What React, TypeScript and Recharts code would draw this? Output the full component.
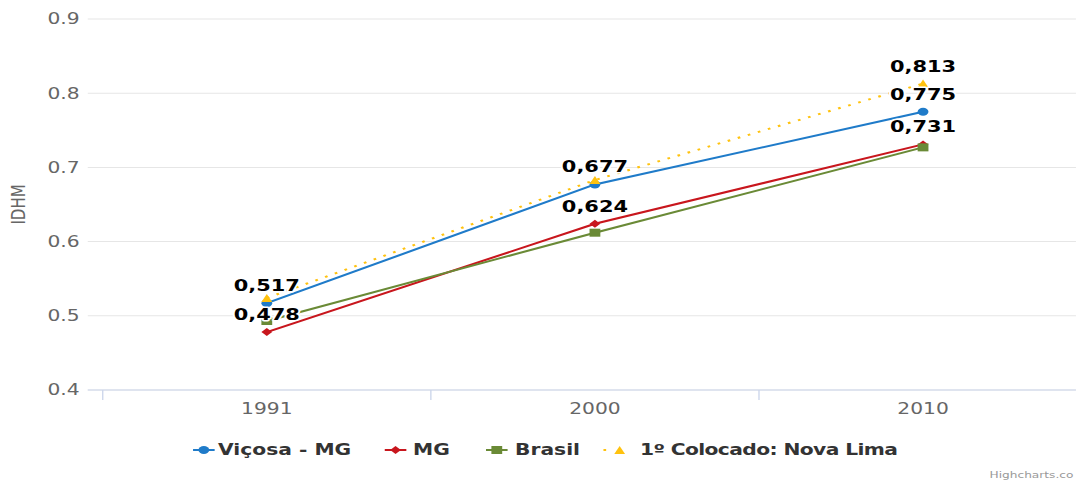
import React from 'react';
import { LineChart, Line, XAxis, YAxis, CartesianGrid, Legend, LabelList } from 'recharts';

// ---- data ----
const years = ['1991', '2000', '2010'];
const vicosa = [0.517, 0.677, 0.775];
const mg = [0.478, 0.624, 0.731];
const brasil = [0.493, 0.612, 0.727];
const novaLima = [0.524, 0.683, 0.813];
const yTicks = [0.4, 0.5, 0.6, 0.7, 0.8, 0.9];
const vicosaLabels = [true, true, true];
const mgLabels = [true, true, true];
const brasilLabels = [false, false, false];
const novaLimaLabels = [false, false, true];

const data = years.map((y, i) => ({
  idx: i,
  year: y,
  vicosa: vicosa[i],
  mg: mg[i],
  brasil: brasil[i],
  novaLima: novaLima[i],
}));

type Shape = 'circle' | 'diamond' | 'square' | 'triangle';
const series: { key: string; name: string; color: string; shape: Shape; dash?: string; labels: boolean[] }[] = [
  { key: 'vicosa', name: 'Viçosa - MG', color: '#1f7bc9', shape: 'circle', labels: vicosaLabels },
  { key: 'mg', name: 'MG', color: '#c8161d', shape: 'diamond', labels: mgLabels },
  { key: 'brasil', name: 'Brasil', color: '#6a8a36', shape: 'square', labels: brasilLabels },
  { key: 'novaLima', name: '1º Colocado: Nova Lima', color: '#ffc20e', shape: 'triangle', dash: '2 6', labels: novaLimaLabels },
];

// legend layout (chart units, before horizontal stretch)
const legendSymbolLeft = [143, 285, 360, 447];
const legendTextLeft = [161.5, 306, 381.5, 474];

const SCALE_X = 1.35;
const W = 797;
const H = 480;
const FONT = "'DejaVu Sans', sans-serif";
const X_DOMAIN: [number, number] = [-0.5457, 2.466];

function markerEl(shape: Shape, cx: number, cy: number, color: string, key?: string | number) {
  const s = 4;
  if (shape === 'circle') return <circle key={key} cx={cx} cy={cy} r={4} fill={color} />;
  if (shape === 'diamond')
    return <path key={key} d={`M${cx},${cy - s} L${cx + s},${cy} L${cx},${cy + s} L${cx - s},${cy} Z`} fill={color} />;
  if (shape === 'square') return <rect key={key} x={cx - s} y={cy - s} width={2 * s} height={2 * s} fill={color} />;
  return <path key={key} d={`M${cx},${cy - s} L${cx + s},${cy + s} L${cx - s},${cy + s} Z`} fill={color} />;
}

const LegendContent = () => (
  <div
    style={{
      position: 'relative',
      fontFamily: FONT,
      fontWeight: 'bold',
      fontSize: 15,
      color: '#333',
      width: W,
      height: 22,
    }}
  >
    {series.map((s, i) => (
      <React.Fragment key={s.key}>
        <svg
          width={16}
          height={12}
          style={{ position: 'absolute', left: legendSymbolLeft[i], top: 5, overflow: 'visible' }}
        >
          {s.shape === 'triangle' ? (
            <line x1={0} y1={6} x2={6} y2={6} stroke={s.color} strokeWidth={2} strokeDasharray={s.dash} />
          ) : (
            <line x1={0} y1={6} x2={16} y2={6} stroke={s.color} strokeWidth={2} strokeDasharray={s.dash} />
          )}
          {markerEl(s.shape, s.shape === 'triangle' ? 12 : 8, 6, s.color)}
        </svg>
        <span
          style={{
            position: 'absolute',
            left: legendTextLeft[i],
            top: 2,
            whiteSpace: 'nowrap',
            letterSpacing: s.shape === 'triangle' ? -0.45 : 0,
          }}
        >
          {s.name}
        </span>
      </React.Fragment>
    ))}
  </div>
);

const fmt = (v: number) => v.toFixed(3).replace('.', ',');

function makeLabel(show: boolean[]) {
  return (p: any) => {
    const { x, y, value, index } = p;
    if (value == null || index == null || !show[index]) return null;
    return (
      <text
        x={x}
        y={y - 12}
        textAnchor="middle"
        fontFamily={FONT}
        fontWeight="bold"
        fontSize={15.5}
        fill="#000"
        stroke="#fff"
        strokeWidth={3}
        strokeLinejoin="round"
        paintOrder="stroke"
      >
        {fmt(value)}
      </text>
    );
  };
}

export default function App() {
  return (
    <div style={{ position: 'absolute', left: 0, top: 0, width: W * SCALE_X, height: H, overflow: 'hidden', background: '#fff' }}>
      <div
        style={{
          position: 'relative',
          width: W,
          height: H,
          transform: `scaleX(${SCALE_X})`,
          transformOrigin: 'left top',
          fontFamily: FONT,
        }}
      >
        <LineChart width={W} height={H} data={data} margin={{ top: 19, right: 0, bottom: 60, left: 0 }}>
          <CartesianGrid horizontal vertical={false} stroke="#e6e6e6" />
          <XAxis
            xAxisId={0}
            dataKey="idx"
            type="number"
            domain={X_DOMAIN}
            ticks={[-0.5, 0.5, 1.5]}
            allowDataOverflow
            height={1}
            tick={() => <g />}
            tickSize={10}
            tickLine={{ stroke: '#ccd6eb' }}
            axisLine={{ stroke: '#ccd6eb' }}
          />
          <XAxis
            xAxisId="lab"
            dataKey="idx"
            type="number"
            domain={X_DOMAIN}
            ticks={[0, 1, 2]}
            allowDataOverflow
            height={29}
            tickLine={false}
            axisLine={false}
            tickSize={0}
            tickMargin={12}
            tickFormatter={(v: number) => years[v]}
            tick={{ fill: '#666', fontSize: 15, fontFamily: FONT }}
          />
          <YAxis
            type="number"
            domain={[0.4, 0.9]}
            ticks={yTicks}
            width={65}
            tickLine={false}
            axisLine={false}
            tickSize={4}
            tickMargin={2}
            tickFormatter={(v: number) => v.toFixed(1)}
            tick={{ fill: '#666', fontSize: 15, fontFamily: FONT }}
            label={{
              value: 'IDHM',
              angle: -90,
              position: 'insideLeft',
              offset: 13,
              textAnchor: 'middle',
              fill: '#666',
              fontSize: 15,
              fontFamily: FONT,
            }}
          />
          {series.map((s) => (
            <Line
              key={s.key}
              xAxisId="lab"
              dataKey={s.key}
              name={s.name}
              type="linear"
              stroke={s.color}
              strokeWidth={2}
              strokeDasharray={s.dash}
              isAnimationActive={false}
              activeDot={false}
              dot={(p: any) => markerEl(s.shape, p.cx, p.cy, s.color, `${s.key}-${p.index}`)}
            />
          ))}
          {series.map((s) => (
            <Line
              key={`lab-${s.key}`}
              xAxisId="lab"
              dataKey={s.key}
              stroke="none"
              dot={false}
              activeDot={false}
              legendType="none"
              isAnimationActive={false}
            >
              <LabelList dataKey={s.key} content={makeLabel(s.labels)} />
            </Line>
          ))}
          <Legend
            verticalAlign="middle"
            align="center"
            wrapperStyle={{ left: 0, top: 439, width: W }}
            content={() => <LegendContent />}
          />
        </LineChart>
        <div
          style={{
            position: 'absolute',
            left: 733,
            top: 470,
            fontSize: 9,
            color: '#999',
            whiteSpace: 'nowrap',
            fontFamily: FONT,
          }}
        >
          Highcharts.co
        </div>
      </div>
    </div>
  );
}
